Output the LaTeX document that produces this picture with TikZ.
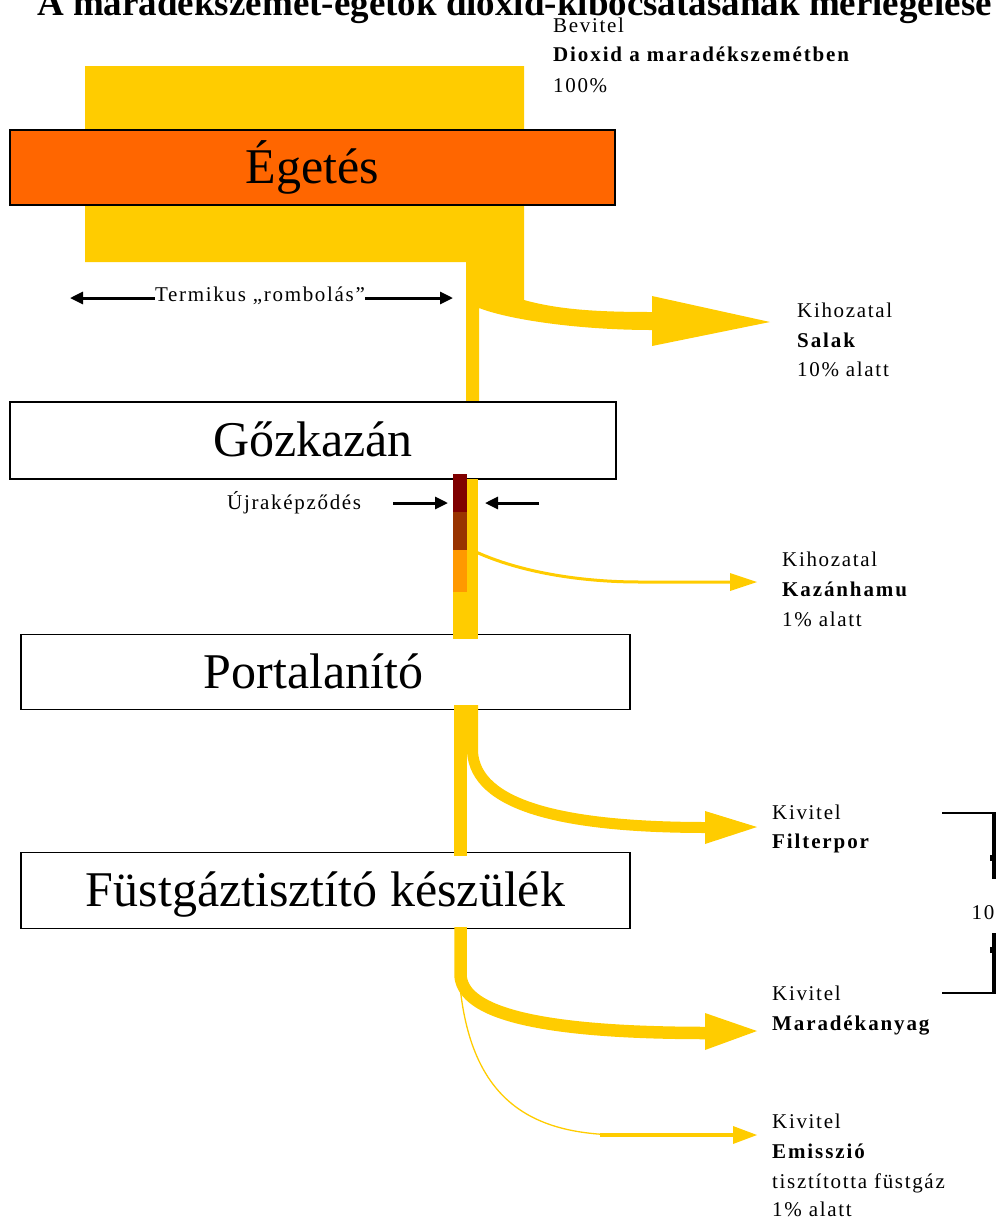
\documentclass[tikz,border=0pt]{standalone}
\usepackage{fontspec}
\setmainfont{Liberation Serif}
\newfontfamily\lblfont[LetterSpace=8]{Liberation Serif}
\newfontfamily\lblbfont[LetterSpace=9]{Liberation Serif Bold}
\usetikzlibrary{arrows.meta}
\definecolor{flowc}{HTML}{FFCC00}
\definecolor{egc}{HTML}{FF6600}
\definecolor{dred}{HTML}{800000}
\definecolor{brn}{HTML}{993300}
\definecolor{orng}{HTML}{FF9900}
\begin{document}
\begin{tikzpicture}[x=1pt,y=-1pt,
  box/.style={draw=black,line width=1.5pt,fill=white,inner sep=0pt,
    font=\fontsize{50}{56}\selectfont,text height=40pt,text depth=8pt},
  lbl/.style={anchor=base west,inner sep=0pt,font=\lblfont\fontsize{21}{24}\selectfont},
  lblb/.style={lbl,font=\lblbfont\fontsize{21}{24}\selectfont},
  blkarrow/.style={line width=3pt,-{Triangle[length=13pt,width=12pt]}}]
\useasboundingbox (0,0) rectangle (996,1219);
\clip (0,0) rectangle (996,1219);

% title
\node[anchor=base west,inner sep=0pt,font=\fontsize{37}{40}\selectfont\bfseries] (title) at (37,15)
  {A maradékszemét-égetők dioxid-kibocsátásának mérlegelése};

% input label
\node[lbl] (bev1) at (553,32) {Bevitel};
\node[lblb] (bev2) at (553,61) {Dioxid a maradékszemétben};
\node[lbl] (bev3) at (553,92) {100\%};

% big yellow flow with slag branch
\coordinate (slagtip) at (770,322);
\fill[flowc] (85,66) -- (524,66) -- (524,300)
  .. controls (560,310) and (600,312) .. (652,312) -- (652,296) -- (slagtip)
  -- (652,346) -- (652,330) .. controls (580,330) and (510,320) .. (479,308)
  -- (479,404) -- (466,404) -- (466,262) -- (85,262) -- cycle;

% boxes
\node[box,fill=egc,minimum width=605pt,minimum height=75pt] (eg) at (312.5,167.5) {Égetés};
\node[box,minimum width=606pt,minimum height=77pt] (goz) at (313,440.5) {Gőzkazán};
\node[box,minimum width=609pt,minimum height=75pt] (por) at (325.5,672) {Portalanító\hspace*{24pt}};
\node[box,minimum width=609pt,minimum height=76pt] (fus) at (325.5,890.5) {Füstgáztisztító készülék};

% thermal destruction
\node[lbl,anchor=center] (term) at (260,296) {Termikus „rombolás”};
\coordinate (termL) at (70,298);
\coordinate (termR) at (453,298);
\draw[blkarrow] ([yshift=-2pt]term.west) -- (termL);
\draw[blkarrow] ([yshift=-2pt]term.east) -- (termR);

\node[lbl] (sl1) at (797,317) {Kihozatal};
\node[lblb] (sl2) at (797,347) {Salak};
\node[lbl] (sl3) at (797,376) {10\% alatt};

% boiler ash thin branch
\coordinate (kztip) at (757,582);
\draw[flowc,line width=3pt] (476,552) .. controls (520,572) and (580,582) .. (640,582) -- (732,582);
\fill[flowc] (730,573) -- (kztip) -- (730,591) -- cycle;

% re-formation column between boiler and dedusting
\fill[dred] (453,474) rectangle (467,512);
\fill[brn] (453,512) rectangle (467,550);
\fill[orng] (453,550) rectangle (467,592);
\fill[flowc] (453,592) rectangle (467,639);
\fill[flowc] (467,479) rectangle (478,639);

\node[lbl] (ujra) at (227,509) {Újraképződés};
\coordinate (ujR) at (448,503);
\coordinate (ujL) at (485,503);
\coordinate (ujRs) at (393,503);
\coordinate (ujLs) at (539,503);
\draw[blkarrow] (ujRs) -- (ujR);
\draw[blkarrow] (ujLs) -- (ujL);

\node[lbl] (kz1) at (782,566) {Kihozatal};
\node[lblb] (kz2) at (782,596) {Kazánhamu};
\node[lbl] (kz3) at (782,626) {1\% alatt};

% after dedusting
\fill[flowc] (454,705) rectangle (467,856);
\coordinate (fptip) at (757,827);
\draw[flowc,line width=11pt] (472.5,705) -- (472.5,752) .. controls (476,805) and (560,827.5) .. (707,827.5);
\fill[flowc] (705,811) -- (fptip) -- (705,844) -- cycle;

\node[lbl] (fp1) at (772,819) {Kivitel};
\node[lblb] (fp2) at (772,848) {Filterpor};

% after flue gas cleaning
\coordinate (emtip) at (757,1135);
\draw[flowc,line width=1.3pt] (459,975) .. controls (468,1100) and (530,1134) .. (620,1135);
\draw[flowc,line width=3.5pt] (600,1135) -- (736,1135);
\fill[flowc] (733,1126) -- (emtip) -- (733,1144) -- cycle;

\coordinate (matip) at (757,1031);
\draw[flowc,line width=12.5pt] (460.5,927) -- (460.5,975) .. controls (462,1008) and (520,1033) .. (707,1033);
\fill[flowc] (705,1013) -- (matip) -- (705,1050) -- cycle;

\node[lbl] (ma1) at (772,1000) {Kivitel};
\node[lblb] (ma2) at (772,1030) {Maradékanyag};

\node[lbl] (em1) at (772,1128) {Kivitel};
\node[lblb] (em2) at (772,1158) {Emisszió};
\node[lbl] (em3) at (772,1188) {tisztította füstgáz};
\node[lbl] (em4) at (772,1216) {1\% alatt};

% bracket
\coordinate (brT) at (942,813);
\coordinate (brB) at (942,993);
\node[lbl,anchor=center] (ten) at (983,913) {10};
\draw[line width=1.5pt] (brT) -- (995,813);
\draw[line width=4pt] (994,812) -- (994,879);
\fill (990,855) rectangle (993,861);
\draw[line width=4pt] (994,933) -- (994,994);
\fill (990,947) rectangle (993,953);
\draw[line width=1.5pt] (brB) -- (995,993);
\end{tikzpicture}
\end{document}
